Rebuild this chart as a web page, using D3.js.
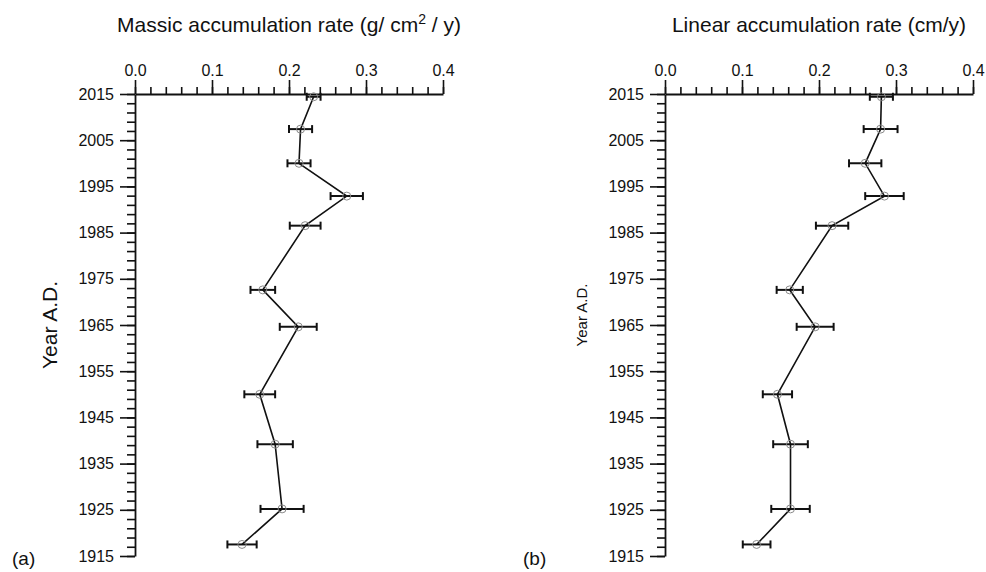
<!DOCTYPE html>
<html>
<head>
<meta charset="utf-8">
<script src="https://cdn.jsdelivr.net/npm/d3@7"></script>
<style>
  html, body { margin: 0; padding: 0; background: #fff; }
  svg { display: block; }
  text { font-family: "Liberation Sans", Arial, sans-serif; fill: #111; }
</style>
</head>
<body>
<svg id="chart" width="986" height="572"></svg>
<script>
// ---- data ----
const years = [2014.4, 2007.4, 2000.0, 1992.9, 1986.5, 1972.6, 1964.6, 1950.0, 1939.2, 1925.2, 1917.5];
const massic = [0.232, 0.215, 0.213, 0.275, 0.221, 0.166, 0.212, 0.162, 0.182, 0.191, 0.139];
const massicErr = [0.009, 0.015, 0.015, 0.021, 0.020, 0.016, 0.024, 0.020, 0.023, 0.028, 0.019];
const linear = [0.281, 0.280, 0.260, 0.285, 0.217, 0.162, 0.195, 0.146, 0.163, 0.163, 0.119];
const linearErr = [0.015, 0.022, 0.021, 0.025, 0.021, 0.017, 0.024, 0.019, 0.0225, 0.025, 0.018];
const xMajorTicks = [0, 0.1, 0.2, 0.3, 0.4];
const yMajorTicks = [1915, 1925, 1935, 1945, 1955, 1965, 1975, 1985, 1995, 2005, 2015];

const svg = d3.select("#chart");

const y = d3.scaleLinear().domain([1915, 2015]).range([556, 94]);
const xMinor = d3.range(0, 0.4001, 0.02);
const yMinor = d3.range(1915, 2015.001, 2);

function panel(opts) {
  const x = d3.scaleLinear().domain([0, 0.4]).range([opts.x0, opts.x0 + 308]);
  const g = svg.append("g");

  // minor x ticks
  g.append("g").attr("transform", `translate(0,${y(2015)})`)
    .call(d3.axisTop(x).tickValues(xMinor).tickSize(7).tickSizeOuter(0).tickFormat(""))
    .call(a => a.select(".domain").remove());
  // major x ticks
  const xa = g.append("g").attr("transform", `translate(0,${y(2015)})`)
    .call(d3.axisTop(x).tickValues(xMajorTicks).tickSize(14).tickSizeOuter(0).tickPadding(4)
      .tickFormat(d3.format(".1f")));
  xa.selectAll("text").attr("font-size", 16).attr("font-family", "Liberation Sans, Arial, sans-serif").attr("fill", "#111");

  // minor y ticks
  g.append("g").attr("transform", `translate(${opts.x0},0)`)
    .call(d3.axisLeft(y).tickValues(yMinor).tickSize(8).tickSizeOuter(0).tickFormat(""))
    .call(a => a.select(".domain").remove());
  const ya = g.append("g").attr("transform", `translate(${opts.x0},0)`)
    .call(d3.axisLeft(y).tickValues(yMajorTicks).tickSize(15).tickSizeOuter(0).tickPadding(6)
      .tickFormat(d3.format("d")));
  ya.selectAll("text").attr("font-size", 16).attr("font-family", "Liberation Sans, Arial, sans-serif").attr("fill", "#111");

  g.selectAll(".domain").attr("stroke", "#111").attr("stroke-width", 1.8);
  g.selectAll(".tick line").attr("stroke", "#111").attr("stroke-width", 1.6);

  // title
  const t = g.append("text")
    .attr("x", opts.x0 + 154).attr("y", 32)
    .attr("text-anchor", "middle").attr("font-size", 21);
  opts.title(t);

  // y label
  g.append("text")
    .attr("transform", `translate(${opts.ylabX},${opts.ylabY}) rotate(-90)`)
    .attr("text-anchor", "middle").attr("font-size", opts.ylabSize)
    .text("Year A.D.");

  // panel letter
  g.append("text")
    .attr("x", opts.letterX).attr("y", 565)
    .attr("font-family", "DejaVu Sans, sans-serif")
    .attr("font-size", 19)
    .text(opts.letter);

  const data = years.map((yr, i) => ({ yr, v: opts.vals[i], e: opts.errs[i] }));

  // error bars
  const eb = g.append("g").attr("stroke", "#111").attr("stroke-width", 2);
  eb.selectAll("line.h").data(data).join("line")
    .attr("x1", d => x(d.v - d.e)).attr("x2", d => x(d.v + d.e))
    .attr("y1", d => y(d.yr)).attr("y2", d => y(d.yr));
  eb.selectAll("line.l").data(data).join("line").attr("class", "l")
    .attr("x1", d => x(d.v - d.e)).attr("x2", d => x(d.v - d.e))
    .attr("y1", d => y(d.yr) - 4).attr("y2", d => y(d.yr) + 4);
  eb.selectAll("line.r").data(data).join("line").attr("class", "r")
    .attr("x1", d => x(d.v + d.e)).attr("x2", d => x(d.v + d.e))
    .attr("y1", d => y(d.yr) - 4).attr("y2", d => y(d.yr) + 4);

  // line
  g.append("path").datum(data)
    .attr("fill", "none").attr("stroke", "#111").attr("stroke-width", 1.6)
    .attr("d", d3.line().x(d => x(d.v)).y(d => y(d.yr)));

  // points
  g.selectAll("circle").data(data).join("circle")
    .attr("cx", d => x(d.v)).attr("cy", d => y(d.yr)).attr("r", 4)
    .attr("fill", "none").attr("stroke", "#8a8a8a").attr("stroke-width", 1);
}

panel({
  x0: 135, vals: massic, errs: massicErr, letter: "(a)", letterX: 12,
  ylabX: 57, ylabY: 325, ylabSize: 21,
  title: t => {
    t.append("tspan").text("Massic accumulation rate (g/ cm");
    t.append("tspan").attr("font-size", 14).attr("dy", -8).text("2");
    t.append("tspan").attr("dy", 8).text(" / y)");
  }
});

panel({
  x0: 665, vals: linear, errs: linearErr, letter: "(b)", letterX: 523,
  ylabX: 587, ylabY: 315, ylabSize: 15,
  title: t => t.text("Linear accumulation rate (cm/y)")
});
</script>
</body>
</html>
